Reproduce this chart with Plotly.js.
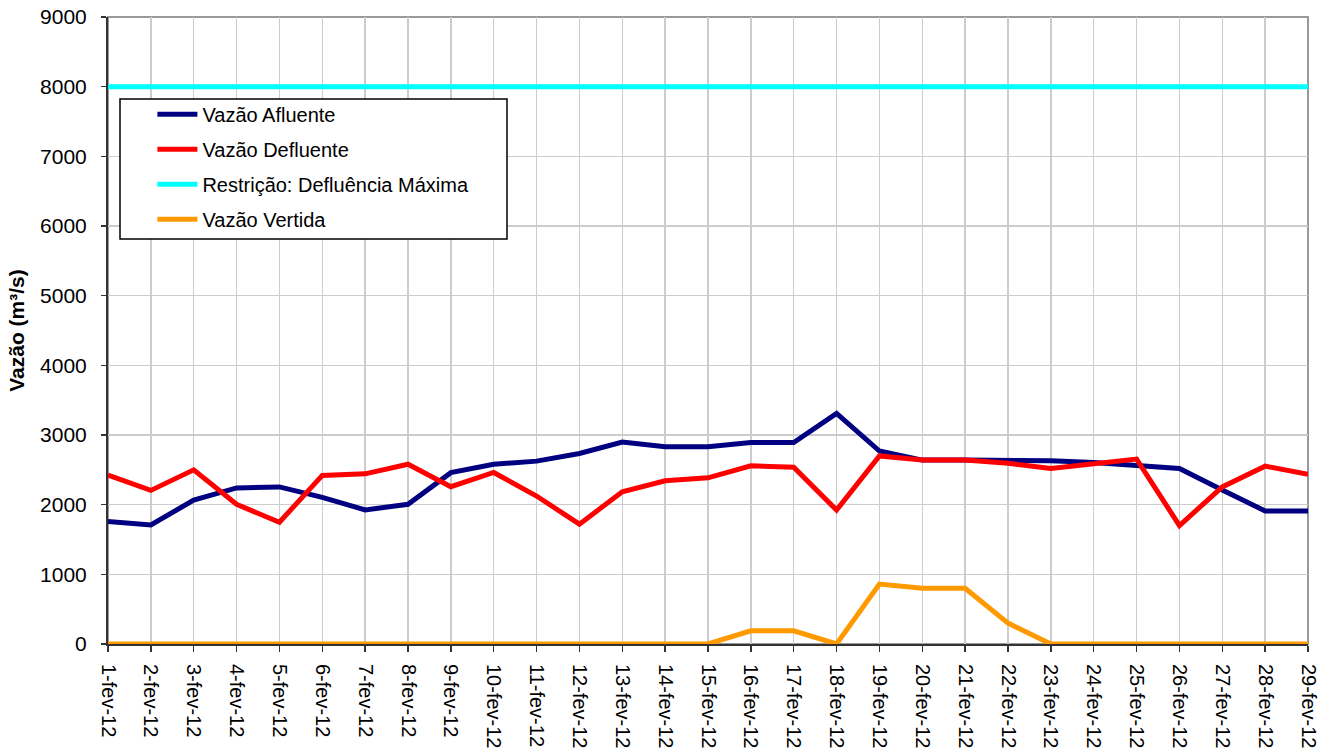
<!DOCTYPE html>
<html>
<head>
<meta charset="utf-8">
<script src="https://cdn.plot.ly/plotly-3.0.1.min.js"></script>
<style>
  html, body { margin: 0; padding: 0; background: #fff; }
  #chart { width: 1335px; height: 754px; }
</style>
</head>
<body>
<div id="chart"></div>
<script>
// days of february 2012
const dias = [
  "1-fev-12", "2-fev-12", "3-fev-12", "4-fev-12", "5-fev-12", "6-fev-12", "7-fev-12",
  "8-fev-12", "9-fev-12", "10-fev-12", "11-fev-12", "12-fev-12", "13-fev-12", "14-fev-12",
  "15-fev-12", "16-fev-12", "17-fev-12", "18-fev-12", "19-fev-12", "20-fev-12", "21-fev-12",
  "22-fev-12", "23-fev-12", "24-fev-12", "25-fev-12", "26-fev-12", "27-fev-12", "28-fev-12",
  "29-fev-12"
];

const vazao_afluente = [
  1760, 1710, 2065, 2240, 2255, 2105, 1925, 2005, 2460, 2580,
  2625, 2735, 2900, 2830, 2830, 2893, 2893, 3310, 2770, 2640,
  2640, 2635, 2630, 2605, 2570, 2520, 2210, 1910, 1910
];

const vazao_defluente = [
  2425, 2205, 2500, 2005, 1748, 2420, 2442, 2580, 2258, 2462,
  2124, 1720, 2185, 2342, 2385, 2558, 2536, 1922, 2700, 2640,
  2640, 2593, 2520, 2590, 2655, 1700, 2255, 2553, 2435
];

const defluencia_maxima = dias.map(() => 8000);

const vazao_vertida = [
  0, 0, 0, 0, 0, 0, 0, 0, 0, 0,
  0, 0, 0, 0, 0, 190, 190, 0, 860, 800,
  800, 300, 0, 0, 0, 0, 0, 0, 0
];

const nomes = [
  "Vazão Afluente",
  "Vazão Defluente",
  "Restrição: Defluência Máxima",
  "Vazão Vertida"
];

const font_family = "Liberation Sans, Arial, sans-serif";

function linha(nome, ys, cor, largura) {
  return {
    name: nome,
    x: dias,
    y: ys,
    type: "scatter",
    mode: "lines",
    line: { color: cor, width: largura },
    legendgroup: nome
  };
}

let data = [
  linha(nomes[0], vazao_afluente, "#000080", 5),
  linha(nomes[1], vazao_defluente, "#ff0000", 5),
  linha(nomes[2], defluencia_maxima, "#00ffff", 5),
  linha(nomes[3], vazao_vertida, "#ff9900", 5)
];

let layout = {
  width: 1335,
  height: 754,
  margin: { l: 108, r: 27, t: 17, b: 110, pad: 0 },
  paper_bgcolor: "#ffffff",
  plot_bgcolor: "#ffffff",
  font: { family: font_family, size: 21, color: "#000" },
  showlegend: true,
  legend: {
    x: 0.037,
    y: 0.876,
    xanchor: "left",
    yanchor: "top",
    bgcolor: "rgba(0,0,0,0)",
    borderwidth: 0,
    itemwidth: 40,
    font: { family: font_family, size: 20, color: "#000" },
    tracegroupgap: 6
  },
  xaxis: {
    type: "category",
    categoryorder: "array",
    categoryarray: dias,
    range: [0, dias.length - 1],
    tickangle: 90,
    ticks: "outside",
    ticklen: 6,
    tickwidth: 1.5,
    tickcolor: "#333",
    showline: true,
    linecolor: "#333",
    linewidth: 2,
    showgrid: true,
    gridcolor: "#cccccc",
    gridwidth: 1.5,
    zeroline: false,
    tickfont: { family: font_family, size: 20, color: "#000" },
    ticklabelstandoff: 8,
    fixedrange: true
  },
  yaxis: {
    range: [0, 9000],
    dtick: 1000,
    tick0: 0,
    ticks: "outside",
    ticklen: 5,
    tickwidth: 1.5,
    tickcolor: "#333",
    showline: true,
    linecolor: "#333",
    linewidth: 2,
    showgrid: true,
    gridcolor: "#cccccc",
    gridwidth: 1.5,
    zeroline: false,
    tickfont: { family: font_family, size: 21, color: "#000" },
    ticklabelstandoff: 10,
    title: {
      text: "<b>Vazão (m³/s)</b>",
      font: { family: font_family, size: 21, color: "#000" },
      standoff: 10
    },
    fixedrange: true
  },
  shapes: [
    // gray frame top / right
    {
      type: "rect", xref: "paper", yref: "paper",
      x0: 0, x1: 1, y0: 0, y1: 1,
      line: { color: "#999999", width: 2 },
      layer: "below"
    },
    // legend box
    {
      type: "rect", xref: "paper", yref: "paper",
      x0: (120 - 108) / 1200, x1: (507 - 108) / 1200,
      y0: (644 - 239) / 627, y1: (644 - 99) / 627,
      line: { color: "#000", width: 1.5 },
      fillcolor: "#ffffff",
      layer: "above"
    }
  ]
};

Plotly.newPlot("chart", data, layout, { displayModeBar: false, staticPlot: true });
</script>
</body>
</html>
